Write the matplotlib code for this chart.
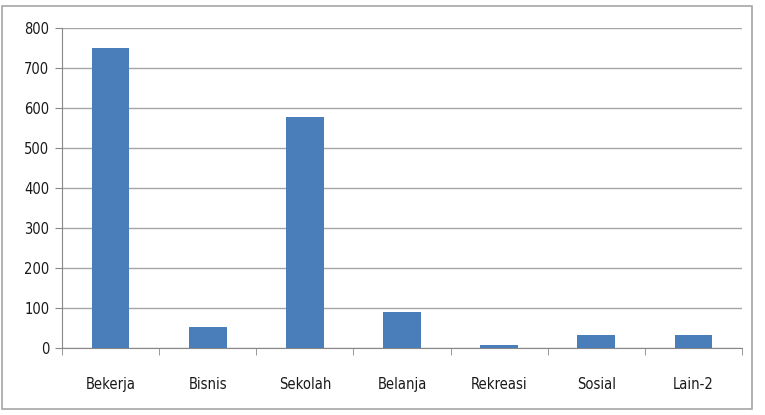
import matplotlib
matplotlib.use("Agg")
import matplotlib.pyplot as plt
from matplotlib.patches import Rectangle

categories = ["Bekerja", "Bisnis", "Sekolah", "Belanja", "Rekreasi", "Sosial", "Lain-2"]
values = [750, 52, 578, 90, 7, 32, 33]

fig = plt.figure(figsize=(7.65, 4.15), dpi=100)
ax = fig.add_axes([0.081, 0.1614, 0.889, 0.7711])

# chart border
fig.patches.append(Rectangle((0.003, 0.015), 0.98, 0.97, transform=fig.transFigure,
                             fill=False, edgecolor="#a6a6a6", linewidth=1.2))

x = range(len(categories))
ax.bar(x, values, width=0.39, color="#4a7ebb", zorder=3)

ax.set_xlim(-0.5, len(categories) - 0.5)
ax.set_ylim(0, 800)
ax.set_yticks(range(0, 801, 100))
ax.grid(axis="y", color="#a6a6a6", linewidth=1.0, zorder=0)

ax.set_xticks(list(x))
ax.set_xticklabels(categories)
ax.set_xticks([i - 0.5 for i in range(len(categories) + 1)], minor=True)
ax.tick_params(axis="x", which="major", length=0, pad=21)
ax.tick_params(axis="x", which="minor", length=5, color="#888888")
ax.tick_params(axis="y", length=5, color="#888888", pad=4)

for lab in ax.get_xticklabels() + ax.get_yticklabels():
    lab.set_fontsize(10.5)
    lab.set_fontstretch("condensed")
    lab.set_color("#1a1a1a")

for s in ["top", "right"]:
    ax.spines[s].set_visible(False)
for s in ["left", "bottom"]:
    ax.spines[s].set_color("#888888")

fig.savefig("out.png", dpi=100)
